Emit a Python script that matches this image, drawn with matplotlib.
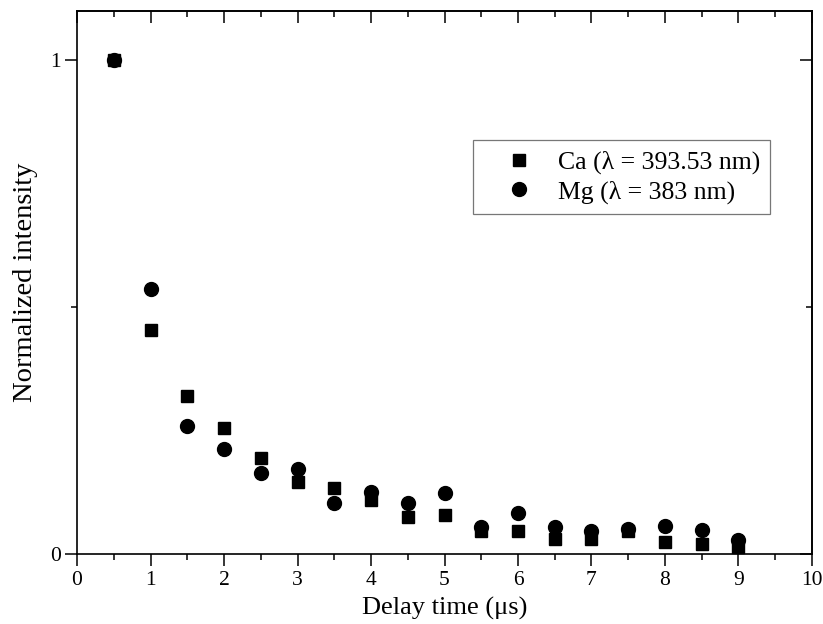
import matplotlib
matplotlib.use("Agg")
import matplotlib.pyplot as plt
from matplotlib.ticker import MultipleLocator, FixedLocator, NullFormatter

plt.rcParams['font.family'] = ['Liberation Serif', 'DejaVu Serif']

delay = [0.5, 1, 1.5, 2, 2.5, 3, 3.5, 4, 4.5, 5, 5.5, 6, 6.5, 7, 7.5, 8, 8.5, 9]
ca = [1.0, 0.453, 0.320, 0.256, 0.195, 0.145, 0.134, 0.110, 0.074, 0.080,
      0.047, 0.046, 0.031, 0.031, 0.047, 0.024, 0.020, 0.014]
mg = [1.0, 0.536, 0.260, 0.213, 0.164, 0.172, 0.104, 0.126, 0.104, 0.124,
      0.054, 0.084, 0.054, 0.047, 0.051, 0.057, 0.049, 0.028]

ca_label = "Ca (λ = 393.53 nm)"
mg_label = "Mg (λ = 383 nm)"

fig = plt.figure(figsize=(8.23, 6.24), dpi=100)
ax = fig.add_axes([0.0936, 0.1122, 0.893, 0.870])

ax.plot(delay, ca, linestyle='none', marker='s', markersize=8.8, color='black',
        label=ca_label)
ax.plot(delay, mg, linestyle='none', marker='o', markersize=10, color='black',
        label=mg_label)

ax.set_xlim(0, 10)
ax.set_ylim(0, 1.1)

ax.xaxis.set_major_locator(MultipleLocator(1))
ax.xaxis.set_minor_locator(MultipleLocator(0.5))
ax.yaxis.set_major_locator(FixedLocator([0, 1]))
ax.yaxis.set_minor_locator(FixedLocator([0.5]))
ax.set_yticklabels(['0', '1'])

for s in ax.spines.values():
    s.set_linewidth(1.2)

ax.tick_params(which='major', direction='out', length=8.5, width=1.1,
               labelsize=15.5, color='black')
ax.tick_params(which='minor', direction='out', length=4.5, width=1.1)
ax.tick_params(axis='x', which='major', pad=4)
ax.tick_params(axis='y', which='major', pad=3)

top = ax.secondary_xaxis('top')
top.xaxis.set_major_locator(MultipleLocator(1))
top.xaxis.set_minor_locator(MultipleLocator(0.5))
top.xaxis.set_major_formatter(NullFormatter())
top.tick_params(which='major', direction='in', length=8.5, width=1.1)
top.tick_params(which='minor', direction='in', length=4.5, width=1.1)

right = ax.secondary_yaxis('right')
right.yaxis.set_major_locator(FixedLocator([0, 1]))
right.yaxis.set_minor_locator(FixedLocator([0.5]))
right.yaxis.set_major_formatter(NullFormatter())
right.tick_params(which='major', direction='in', length=8.5, width=1.1)
right.tick_params(which='minor', direction='in', length=4.5, width=1.1)
for sa in (top, right):
    for s in sa.spines.values():
        s.set_linewidth(1.2)

ax.set_xlabel("Delay time (μs)", fontsize=19, labelpad=5)
ax.set_ylabel("Normalized intensity", fontsize=20.5, labelpad=9)

leg = ax.legend(loc='upper left', bbox_to_anchor=(0.539, 0.762), fontsize=18.5,
                frameon=True, fancybox=False, edgecolor='#555555',
                handletextpad=0.1, borderpad=0.4, labelspacing=0.25,
                handlelength=2.8, borderaxespad=0, markerscale=1.0)
leg.get_frame().set_linewidth(0.9)

fig.savefig("out.png", dpi=100)
